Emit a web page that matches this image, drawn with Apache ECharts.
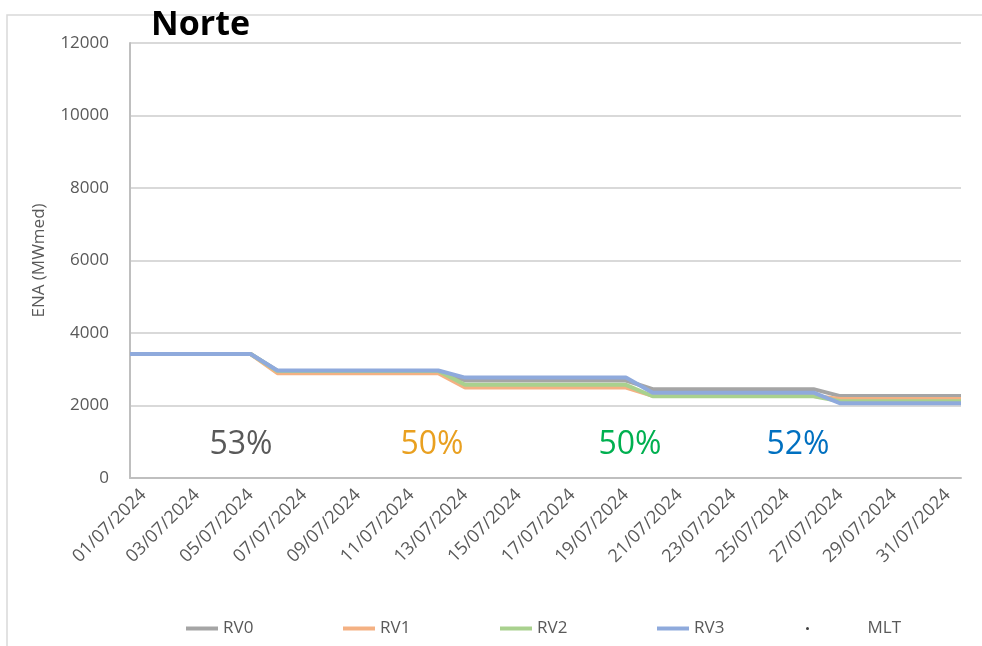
<!DOCTYPE html>
<html>
<head>
<meta charset="utf-8">
<script src="https://cdn.jsdelivr.net/npm/echarts@6/dist/echarts.min.js"></script>
<style>
  html, body { margin: 0; padding: 0; background: #fff; }
  #chart { width: 982px; height: 646px; }
</style>
</head>
<body>
<div id="chart"></div>
<script>
// datas (dd/mm/yyyy)
var dias = [];
for (var d = 1; d <= 31; d++) {
    dias.push((d < 10 ? "0" + d : "" + d) + "/07/2024");
}
// ENA diária por revisão (MWmed)
var rv0 = [3420, 3420, 3420, 3420, 3420,
    2955, 2955, 2955, 2955, 2955, 2955, 2955,
    2690, 2690, 2690, 2690, 2690, 2690, 2690,
    2450, 2450, 2450, 2450, 2450, 2450, 2450,
    2260, 2260, 2260, 2260, 2260];
var rv1 = [3420, 3420, 3420, 3420, 3420,
    2890, 2890, 2890, 2890, 2890, 2890, 2890,
    2495, 2495, 2495, 2495, 2495, 2495, 2495,
    2265, 2265, 2265, 2265, 2265, 2265, 2265,
    2180, 2180, 2180, 2180, 2180];
var rv2 = [3420, 3420, 3420, 3420, 3420,
    2950, 2950, 2950, 2950, 2950, 2950, 2950,
    2570, 2570, 2570, 2570, 2570, 2570, 2570,
    2255, 2255, 2255, 2255, 2255, 2255, 2255,
    2115, 2115, 2115, 2115, 2115];
var rv3 = [3420, 3420, 3420, 3420, 3420,
    2965, 2965, 2965, 2965, 2965, 2965, 2965,
    2770, 2770, 2770, 2770, 2770, 2770, 2770,
    2355, 2355, 2355, 2355, 2355, 2355, 2355,
    2060, 2060, 2060, 2060, 2060];
var nomes = ["RV0", "RV1", "RV2", "RV3"];
var cores = ["#a5a5a5", "#f4b183", "#a9d18e", "#8faadc"];
// itens da legenda
var legendaNomes = ["RV0", "RV1", "RV2", "RV3", "MLT"];
var legendaIcones = ["rect", "rect", "rect", "rect", "circle"];
// percentuais da MLT
var pctTextos = ["53%", "50%", "50%", "52%"];
var pctCores = ["#595959", "#e9a020", "#00b050", "#0070c0"];
var pctX = [241, 432, 630, 798];

// pontos no centro de cada dia, estendidos até as bordas do eixo
function pontos(valores) {
    var out = [[0, valores[0]]];
    valores.forEach(function (v, i) { out.push([i + 0.5, v]); });
    out.push([valores.length, valores[valores.length - 1]]);
    return out;
}

var myChart = echarts.init(document.getElementById("chart"));
var series = [rv0, rv1, rv2, rv3].map(function (vals, i) {
    return {
        name: nomes[i],
        type: "line",
        xAxisIndex: 1,
        data: pontos(vals),
        showSymbol: false,
        lineStyle: { width: 4, color: cores[i] },
        itemStyle: { color: cores[i] }
    };
});
series.push({
    name: "MLT",
    type: "line",
    xAxisIndex: 1,
    data: [],
    itemStyle: { color: "#404040" },
    lineStyle: { width: 0 }
});

// uma legenda por item, espaçadas igualmente
var legendas = legendaNomes.map(function (n, i) {
    var mlt = n === "MLT";
    return {
        left: 181 + i * 157 - (mlt ? 8 : 0),
        top: 615,
        itemWidth: 32,
        itemHeight: mlt ? 3 : 4,
        itemGap: 0,
        textStyle: { fontSize: 17, color: "#595959", padding: mlt ? [0, 0, 0, 39] : 0 },
        data: [{ name: n, icon: legendaIcones[i] }]
    };
});

var graficos = [{
    type: "rect",
    shape: { x: 7, y: 15, width: 1000, height: 660 },
    style: { fill: "none", stroke: "#d9d9d9", lineWidth: 1.5 },
    silent: true
}];
pctTextos.forEach(function (t, i) {
    graficos.push({
        type: "text",
        x: pctX[i],
        y: 445,
        style: {
            text: t,
            fill: pctCores[i],
            font: "32px 'Open Sans'",
            align: "center",
            verticalAlign: "middle"
        }
    });
});

var option = {
    animation: false,
    textStyle: { fontFamily: "Open Sans" },
    title: {
        text: "Norte",
        left: 146,
        top: 3,
        textStyle: { fontSize: 34, fontWeight: "bold", color: "#000" }
    },
    grid: { left: 130, right: 21, top: 43, bottom: 168 },
    legend: legendas,
    xAxis: [{
        type: "category",
        data: dias,
        boundaryGap: true,
        axisTick: { show: false },
        axisLine: { lineStyle: { color: "#bfbfbf", width: 2 } },
        axisLabel: {
            interval: 1,
            rotate: 45,
            fontSize: 18,
            color: "#595959",
            margin: 14
        }
    }, {
        type: "value",
        min: 0,
        max: 31,
        show: false
    }],
    yAxis: {
        type: "value",
        min: 0,
        max: 12000,
        interval: 2000,
        name: "ENA (MWmed)",
        nameLocation: "middle",
        nameRotate: 90,
        nameGap: 82,
        nameTextStyle: { fontSize: 17, color: "#595959" },
        axisLine: { show: true, lineStyle: { color: "#bfbfbf", width: 2 } },
        axisTick: { show: false },
        axisLabel: {
            fontSize: 17,
            color: "#595959",
            margin: 21,
            formatter: function (v) { return String(v); }
        },
        splitLine: { lineStyle: { color: "#d9d9d9", width: 2 } }
    },
    graphic: graficos,
    series: series
};
myChart.setOption(option);
</script>
</body>
</html>
